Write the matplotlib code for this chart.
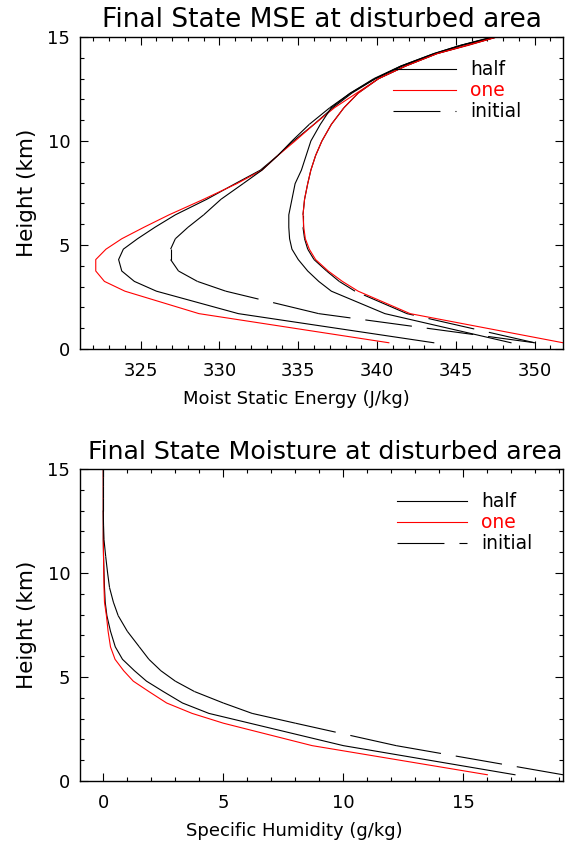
import matplotlib
matplotlib.use("Agg")
import matplotlib.pyplot as plt
from matplotlib.ticker import MultipleLocator
from matplotlib.lines import Line2D

plt.rcParams['font.family'] = ['DejaVu Sans']
plt.rcParams['lines.scale_dashes'] = False

# Heights (km)
height = [0.3, 1.7, 2.78, 3.25, 3.75, 4.3, 4.8, 5.3, 5.85, 6.45, 7.2, 7.95,
          8.6, 9.3, 10.0, 10.8, 11.6, 12.3, 13.0, 13.6, 14.2, 14.6, 15.0]

# Moist static energy (J/kg)
mse_half = [343.6, 331.2, 326.0, 324.6, 323.8, 323.6, 323.9, 324.8, 325.9, 327.2, 329.2, 331.0,
            332.6, 333.7, 334.7, 336.0, 337.2, 338.4, 339.9, 341.5, 343.6, 345.3, 347.4]
mse_one = [340.75, 328.7, 324.0, 322.7, 322.15, 322.15, 322.8, 323.8, 325.2, 326.8, 329.0, 331.1,
           332.7, 333.7, 334.8, 336.0, 337.3, 338.7, 340.1, 341.8, 343.8, 345.8, 347.6]
mse_initial = [350.0, 336.3, 330.4, 328.6, 327.4, 326.9, 326.9, 327.2, 328.0, 329.0, 330.1, 331.5,
               332.7, 333.7, 334.6, 335.7, 337.0, 338.3, 339.8, 341.5, 343.6, 345.3, 347.3]

# Saturated moist static energy (J/kg)
smse_half = [348.5, 340.5, 337.1, 336.3, 335.6, 335.0, 334.6, 334.45, 334.4, 334.4, 334.6, 334.8,
             335.2, 335.5, 335.8, 336.4, 337.1, 338.3, 339.9, 341.6, 343.7, 345.4, 347.5]
smse_one = [351.8, 342.1, 338.8, 337.8, 336.9, 336.1, 335.7, 335.45, 335.35, 335.3, 335.4, 335.6,
            335.8, 336.1, 336.5, 337.1, 337.9, 338.8, 340.1, 341.8, 343.8, 345.7, 347.6]
smse_initial = [350.0, 341.9, 338.6, 337.6, 336.8, 336.0, 335.6, 335.4, 335.3, 335.3, 335.4, 335.6,
                335.8, 336.1, 336.5, 337.1, 337.9, 338.8, 340.1, 341.8, 343.8, 345.7, 347.6]

# Specific humidity (g/kg)
q_half = [17.15, 10.0, 6.1, 4.4, 3.3, 2.5, 1.8, 1.3, 0.8, 0.5, 0.3, 0.15,
          0.08, 0.05, 0.03, 0.01, 0.0, 0.0, 0.0, 0.0, 0.0, 0.0, 0.0]
q_one = [16.0, 8.7, 5.0, 3.7, 2.64, 1.9, 1.25, 0.85, 0.49, 0.3, 0.2, 0.13,
         0.05, 0.03, 0.02, 0.01, 0.0, 0.0, 0.0, 0.0, 0.0, 0.0, 0.0]
q_initial = [19.15, 12.2, 8.0, 6.2, 5.0, 3.8, 3.0, 2.4, 1.9, 1.5, 1.0, 0.62,
             0.42, 0.26, 0.18, 0.1, 0.03, 0.01, 0.0, 0.0, 0.0, 0.0, 0.0]

labels = ['half', 'one', 'initial']
colors = ['black', 'red', 'black']
DASH = (0, (33.8, 10.8))
LW = 0.8


def dashed_profile(ax, xs, zs):
    # IDL-style: the dash pattern restarts at every vertex
    for i in range(len(xs) - 1):
        ax.plot(xs[i:i + 2], zs[i:i + 2], color='black', lw=LW, linestyle=DASH)


fig = plt.figure(figsize=(5.75, 8.46), dpi=100)
ax1 = fig.add_axes([80/575, 1-349/846, 483/575, 312/846])
ax2 = fig.add_axes([80/575, 1-781/846, 483/575, 312/846])

for ax in (ax1, ax2):
    for s in ax.spines.values():
        s.set_linewidth(1.0)
    ax.tick_params(which='both', direction='in', top=True, right=True,
                   labelsize=13, width=0.8)
    ax.tick_params(axis='x', pad=9)
    ax.tick_params(axis='y', pad=7)
    ax.tick_params(which='major', length=6)
    ax.tick_params(which='minor', length=3.2)
    ax.set_ylim(0, 15)
    ax.yaxis.set_major_locator(MultipleLocator(5))
    ax.yaxis.set_minor_locator(MultipleLocator(1))
    ax.xaxis.set_minor_locator(MultipleLocator(1))
    ax.xaxis.set_major_locator(MultipleLocator(5))
    ax.set_ylabel('Height (km)', fontsize=15.5)
    ax.yaxis.set_label_coords(-0.09, 0.5)

legend_handles = [Line2D([], [], color='black', lw=LW),
                  Line2D([], [], color='red', lw=LW),
                  Line2D([], [], color='black', lw=LW, linestyle=DASH)]

# Top panel
ax1.plot(mse_half, height, color='black', lw=LW)
ax1.plot(mse_one, height, color='red', lw=LW)
dashed_profile(ax1, mse_initial, height)
dashed_profile(ax1, smse_initial, height)
ax1.plot(smse_half, height, color='black', lw=LW)
ax1.plot(smse_one, height, color='red', lw=LW)
ax1.set_xlim(min(mse_one) - 1, max(smse_one))
ax1.set_xlabel('Moist Static Energy (J/kg)', fontsize=13)
ax1.xaxis.set_label_coords((296 - 80) / 483, -0.13)
ax1.set_title('Final State MSE at disturbed area', fontsize=19, pad=7)
leg1 = ax1.legend(legend_handles, labels, loc='upper left', bbox_to_anchor=(0.648, 0.925),
                  frameon=False, fontsize=13.5, handlelength=3.35, handletextpad=0.75,
                  labelspacing=0.1, borderpad=0, borderaxespad=0)
for t, c in zip(leg1.get_texts(), colors):
    t.set_color(c)

# Bottom panel
ax2.plot(q_half, height, color='black', lw=LW)
ax2.plot(q_one, height, color='red', lw=LW)
dashed_profile(ax2, q_initial, height)
ax2.set_xlim(min(q_one) - 0.97, max(q_initial))
ax2.set_xlabel('Specific Humidity (g/kg)', fontsize=13)
ax2.xaxis.set_label_coords((294 - 80) / 483, -0.13)
ax2.set_title('Final State Moisture at disturbed area', fontsize=18.2, pad=7, loc='left',
              x=0.016)
leg2 = ax2.legend(legend_handles, labels, loc='upper left', bbox_to_anchor=(0.656, 0.925),
                  frameon=False, fontsize=13.5, handlelength=3.75, handletextpad=0.75,
                  labelspacing=0.1, borderpad=0, borderaxespad=0)
for t, c in zip(leg2.get_texts(), colors):
    t.set_color(c)

fig.savefig('out.png', dpi=100)
